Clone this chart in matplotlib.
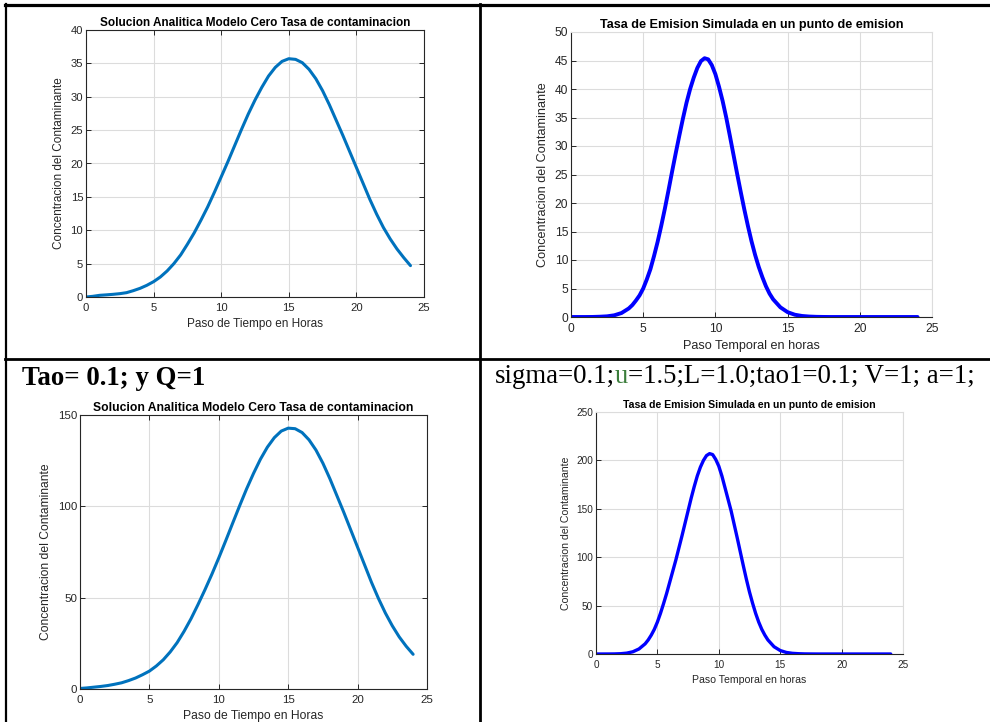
import numpy as np
import matplotlib.pyplot as plt
from matplotlib.lines import Line2D

plt.rcParams['font.family'] = ['Liberation Sans', 'DejaVu Sans']

W, H = 990, 722

# hours (0 .. 24, every half hour) for the analytic curves
horas = np.arange(0, 24.5, 0.5)

# analytic solution, model zero (top row)
analitica_1 = [0.0, 0.1, 0.25, 0.32, 0.4, 0.5, 0.65, 0.95, 1.3, 1.75,
               2.3, 3.0, 3.9, 5.0, 6.3, 7.9, 9.6, 11.5, 13.5, 15.7,
               18.0, 20.3, 22.7, 25.1, 27.4, 29.5, 31.4, 33.1, 34.4, 35.3,
               35.7, 35.6, 35.1, 34.1, 32.7, 30.9, 28.8, 26.5, 24.2, 21.8,
               19.4, 17.0, 14.6, 12.4, 10.4, 8.7, 7.2, 5.9, 4.7]

# analytic solution, Tao=0.1; Q=1
analitica_2 = [0.3, 0.6, 1.0, 1.4, 1.9, 2.6, 3.4, 4.6, 6.0, 7.8,
               9.8, 12.6, 16.0, 20.3, 25.4, 31.6, 38.5, 46.2, 54.3, 62.8,
               71.8, 81.2, 90.8, 100.3, 109.5, 118.0, 125.8, 132.4, 137.6, 141.2,
               142.8, 142.5, 140.4, 136.4, 130.8, 123.6, 115.2, 106.0, 96.8, 87.2,
               77.6, 68.0, 58.4, 49.6, 41.6, 34.6, 28.5, 23.4, 19.0]

# simulated curves: finer steps around the peak
horas_sim = np.concatenate([np.arange(0, 4.0, 0.5),
                            np.arange(4.0, 14.0, 0.25),
                            np.arange(14.0, 24.5, 0.5)])

simulada_1 = [0.0, 0.0, 0.0, 0.01, 0.05, 0.12, 0.3, 0.7,
              1.5, 2.1, 2.9, 3.8, 5.0, 6.6, 8.4, 10.7, 13.2, 16.0,
              19.0, 22.2, 25.5, 28.7, 31.8, 34.8, 37.6, 40.0, 42.0, 43.7,
              44.9, 45.4, 45.2, 44.2, 42.6, 40.4, 37.9, 35.0, 31.8, 28.5,
              25.2, 22.0, 18.9, 16.0, 13.3, 10.9, 8.8, 7.0, 5.4, 4.1,
              3.1, 1.7, 0.85, 0.4, 0.18, 0.08, 0.03, 0.01,
              0, 0, 0, 0, 0, 0, 0, 0, 0, 0, 0, 0, 0]

simulada_2 = [0.0, 0.0, 0.02, 0.08, 0.3, 0.9, 2.3, 5.2,
              10.5, 14.5, 19.5, 25.5, 33.0, 42.0, 52.0, 62.5, 74.0, 85.5,
              97.0, 109.5, 122.0, 135.0, 148.0, 161.0, 173.0, 184.0, 193.0, 200.0,
              205.0, 207.0, 206.0, 201.0, 194.0, 184.0, 172.0, 160.0, 148.0, 134.0,
              120.0, 105.5, 91.0, 77.0, 64.0, 52.5, 42.0, 33.0, 25.5, 19.5,
              14.5, 7.5, 3.6, 1.6, 0.7, 0.3, 0.1, 0.04,
              0, 0, 0, 0, 0, 0, 0, 0, 0, 0, 0, 0, 0]

titulo_analitica = 'Solucion Analitica Modelo Cero Tasa de contaminacion'
titulo_simulada = 'Tasa de Emision Simulada en un punto de emision'
ylabel = 'Concentracion del Contaminante'
xlabel_analitica = 'Paso de Tiempo en Horas'
xlabel_simulada = 'Paso Temporal en horas'

MATLAB_BLUE = '#0072BD'
AX_COLOR = '#262626'
GRID_COLOR = '#dcdcdc'


def px_axes(fig, left, top, right, bottom):
    return fig.add_axes([left / W, 1 - bottom / H, (right - left) / W, (bottom - top) / H])


def style_axes(ax, ymax, ystep, fs, box=True):
    ax.set_xlim(0, 25)
    ax.set_ylim(0, ymax)
    ax.set_xticks(np.arange(0, 26, 5))
    ax.set_yticks(np.arange(0, ymax + 1, ystep))
    ax.grid(True, color=GRID_COLOR, linewidth=0.8)
    ax.set_axisbelow(True)
    ax.tick_params(direction='in', length=3.5, width=0.7, colors=AX_COLOR,
                   labelsize=fs * 0.95, top=box, right=box)
    ax.tick_params(axis='x', pad=4)
    ax.tick_params(axis='y', pad=2)
    for side in ['left', 'bottom']:
        ax.spines[side].set_color(AX_COLOR)
        ax.spines[side].set_linewidth(0.8)
    for side in ['top', 'right']:
        ax.spines[side].set_color(AX_COLOR if box else GRID_COLOR)
        ax.spines[side].set_linewidth(0.8)


def panel(fig, pos, x, y, ymax, ystep, fs, title, xlab, color, lw, box):
    ax = px_axes(fig, *pos)
    ax.plot(x, y, color=color, linewidth=lw, solid_capstyle='round',
            solid_joinstyle='round')
    style_axes(ax, ymax, ystep, fs, box)
    ax.set_title(title, fontsize=fs, fontweight='bold', pad=3, color='black')
    ax.set_xlabel(xlab, fontsize=fs, color=AX_COLOR, labelpad=4)
    ax.set_ylabel(ylabel, fontsize=fs, color=AX_COLOR, labelpad=4)
    return ax


fig = plt.figure(figsize=(W / 100, H / 100), dpi=100)

panel(fig, (86, 30, 424, 297), horas, analitica_1, 40, 5, 8.5,
      titulo_analitica, xlabel_analitica, MATLAB_BLUE, 2.2, True)
panel(fig, (571, 32, 932, 317), horas_sim, simulada_1, 50, 5, 9.1,
      titulo_simulada, xlabel_simulada, 'blue', 2.8, False)
panel(fig, (80, 415, 427, 689), horas, analitica_2, 150, 50, 8.7,
      titulo_analitica, xlabel_analitica, MATLAB_BLUE, 2.2, True)
panel(fig, (596, 412, 903, 654), horas_sim, simulada_2, 250, 50, 7.6,
      titulo_simulada, xlabel_simulada, 'blue', 2.4, False)


# table lines around the four figures
def hline(y, x0, x1, lw=2.0):
    fig.add_artist(Line2D([x0 / W, x1 / W], [1 - y / H, 1 - y / H], color='black', linewidth=lw))


def vline(x, y0, y1, lw=2.0):
    fig.add_artist(Line2D([x / W, x / W], [1 - y0 / H, 1 - y1 / H], color='black', linewidth=lw))


hline(5, 5, W, 2.3)
hline(358.5, 5, W, 2.0)
vline(6, 4, H, 1.6)
vline(479.5, 4, H, 2.0)

# parameter captions
fig.text(22 / W, 1 - 385 / H, 'Tao= 0.1; y Q=1', family='Liberation Serif',
         fontweight='bold', fontsize=19.4, va='baseline', ha='left')

serif = dict(family='Liberation Serif', fontsize=19.3, va='baseline', ha='left')
t1 = fig.text(495 / W, 1 - 383 / H, 'sigma=0.1;', **serif)
t2 = fig.text(0, 0, 'u', color='#3b7d3b', **serif)
t3 = fig.text(0, 0, '=1.5;L=1.0;tao1=0.1; V=1; a=1;', **serif)
r = fig.canvas.get_renderer()
x = t1.get_window_extent(r).x1
t2.set_position((x / W, 1 - 383 / H))
x = t2.get_window_extent(r).x1
t3.set_position((x / W, 1 - 383 / H))

fig.savefig('out.png', dpi=100)
